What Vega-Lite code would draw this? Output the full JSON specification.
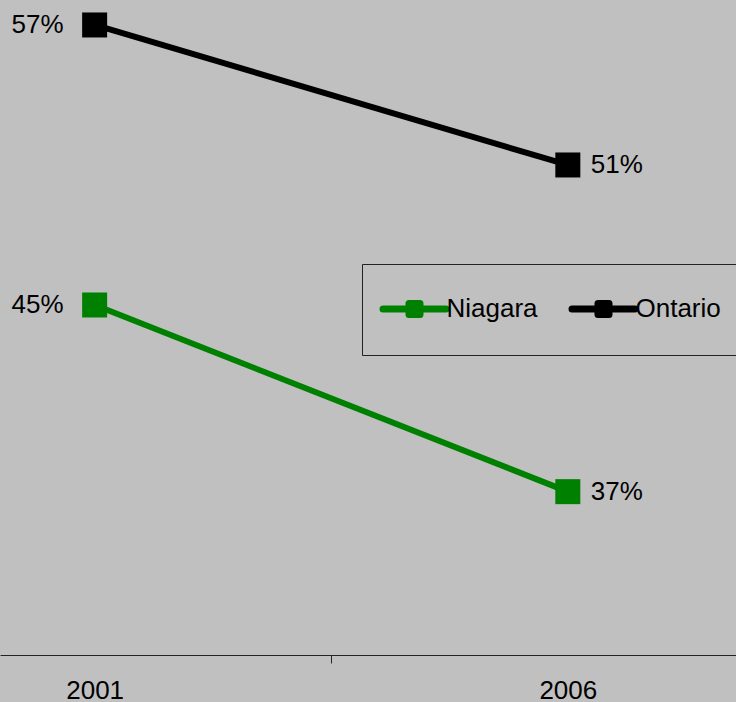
{
  "$schema": "https://vega.github.io/schema/vega-lite/v6.json",
  "width": 736,
  "height": 655,
  "autosize": {"type": "none"},
  "padding": {"left": 0, "top": 0, "right": 0, "bottom": 47},
  "background": "#C0C0C0",
  "config": {"view": {"stroke": null}, "font": "Liberation Sans"},
  "data": {"values": [
    {"region": "Niagara", "year": 2001, "value": 45, "label": "45%"},
    {"region": "Niagara", "year": 2006, "value": 37, "label": "37%"},
    {"region": "Ontario", "year": 2001, "value": 57, "label": "57%"},
    {"region": "Ontario", "year": 2006, "value": 51, "label": "51%"}
  ]},
  "encoding": {
    "x": {
      "field": "year", "type": "quantitative",
      "scale": {"domain": [2000, 2007.777], "nice": false, "zero": false},
      "axis": {
        "title": null, "grid": false, "values": [2001, 2003.5, 2006], "format": "d",
        "labelExpr": "datum.value == 2003.5 ? '' : datum.label",
        "domainColor": "#222222", "domainWidth": 1,
        "tickColor": "#222222", "tickSize": 8, "tickWidth": 1,
        "tickOpacity": {"condition": {"test": "datum.value == 2003.5", "value": 1}, "value": 0},
        "labelFontSize": 26, "labelFont": "Liberation Sans", "labelColor": "black",
        "labelPadding": 14, "labelFlush": false, "labelOverlap": false
      }
    },
    "y": {
      "field": "value", "type": "quantitative",
      "scale": {"domain": [30, 58.07], "nice": false, "zero": false},
      "axis": null
    },
    "color": {
      "field": "region", "type": "nominal",
      "scale": {"domain": ["Niagara", "Ontario"], "range": ["#008000", "#000000"]},
      "legend": {
        "title": null, "orient": "none", "legendX": 362, "legendY": 264,
        "direction": "horizontal", "columns": 2,
        "symbolType": "M-2,-0.48H2M-0.35,-0.83H0.35V-0.13H-0.35Z",
        "symbolSize": 992.25, "symbolStrokeWidth": 7, "symbolOpacity": 1,
        "symbolOffset": 0,
        "labelFontSize": 26, "labelFont": "Liberation Sans", "labelColor": "black",
        "labelOffset": 12.5, "columnPadding": 30, "padding": 33,
        "strokeColor": "#222222", "fillColor": "#C0C0C0",
        "encode": {
          "symbols": {"update": {
            "strokeCap": {"value": "round"},
            "strokeJoin": {"value": "round"},
            "fill": {"scale": "color", "field": "value"},
            "stroke": {"scale": "color", "field": "value"}
          }},
          "labels": {"update": {"dy": {"value": -7.5}}}
        }
      }
    }
  },
  "layer": [
    {"mark": {"type": "line", "strokeWidth": 6}},
    {"mark": {"type": "point", "shape": "square", "size": 625, "filled": true, "opacity": 1}},
    {
      "transform": [{"filter": "datum.year == 2001"}],
      "mark": {"type": "text", "align": "right", "baseline": "middle", "dx": -31, "fontSize": 26, "font": "Liberation Sans"},
      "encoding": {"text": {"field": "label"}, "color": {"value": "black"}}
    },
    {
      "transform": [{"filter": "datum.year == 2006"}],
      "mark": {"type": "text", "align": "left", "baseline": "middle", "dx": 23, "fontSize": 26, "font": "Liberation Sans"},
      "encoding": {"text": {"field": "label"}, "color": {"value": "black"}}
    }
  ]
}
